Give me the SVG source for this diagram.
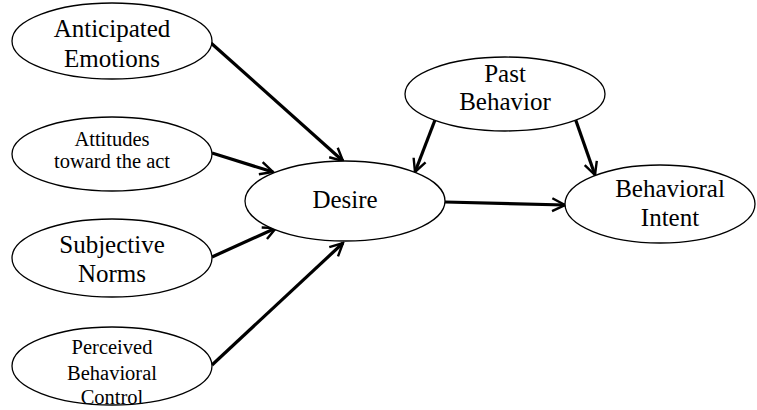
<svg xmlns="http://www.w3.org/2000/svg" width="757" height="410" viewBox="0 0 757 410">
<defs>
<style>
.n ellipse{fill:#fff;stroke:#000;stroke-width:1.3}
.n text{font-family:'Liberation Serif','Times New Roman',serif;font-size:25px;text-anchor:middle;fill:#000}
.n text.s{font-size:20.5px}
.c line{stroke:#000;stroke-width:3.2;marker-end:url(#ah)}
</style>
<marker id="ah" viewBox="0 0 10 10" refX="9" refY="5" markerWidth="5" markerHeight="5" orient="auto" markerUnits="strokeWidth">
<polyline points="1,1 9,5 1,9" fill="none" stroke="#000" stroke-width="1.5" stroke-linejoin="miter"/>
</marker>
</defs>
<rect width="757" height="410" fill="#fff"/>
<g class="c" id="connectors">
<line x1="211" y1="43" x2="343" y2="161"/>
<line x1="212" y1="153" x2="273" y2="172"/>
<line x1="212" y1="257" x2="276" y2="228"/>
<line x1="212" y1="365" x2="343" y2="243"/>
<line x1="435" y1="120" x2="415" y2="172"/>
<line x1="575" y1="118" x2="595" y2="175"/>
<line x1="445" y1="202" x2="565" y2="205"/>
</g>
<g class="n" id="anticipated">
<ellipse cx="112" cy="41" rx="100" ry="38"/>
<text x="112" y="37">Anticipated</text>
<text x="112" y="67">Emotions</text>
</g>
<g class="n" id="attitudes">
<ellipse cx="112" cy="154" rx="100" ry="37"/>
<text class="s" x="112" y="146">Attitudes</text>
<text class="s" x="112" y="168">toward the act</text>
</g>
<g class="n" id="subjective">
<ellipse cx="112" cy="258" rx="100" ry="39"/>
<text x="112" y="253">Subjective</text>
<text x="112" y="282">Norms</text>
</g>
<g class="n" id="perceived">
<ellipse cx="112" cy="366" rx="100" ry="39"/>
<text class="s" x="112" y="354">Perceived</text>
<text class="s" x="112" y="380">Behavioral</text>
<text class="s" x="112" y="404">Control</text>
</g>
<g class="n" id="desire">
<ellipse cx="345" cy="201" rx="100" ry="40"/>
<text x="345" y="208">Desire</text>
</g>
<g class="n" id="past">
<ellipse cx="505" cy="94" rx="100" ry="37"/>
<text x="505" y="82">Past</text>
<text x="505" y="110">Behavior</text>
</g>
<g class="n" id="intent">
<ellipse cx="660" cy="204" rx="95" ry="39"/>
<text x="670" y="197">Behavioral</text>
<text x="670" y="226">Intent</text>
</g>
</svg>
